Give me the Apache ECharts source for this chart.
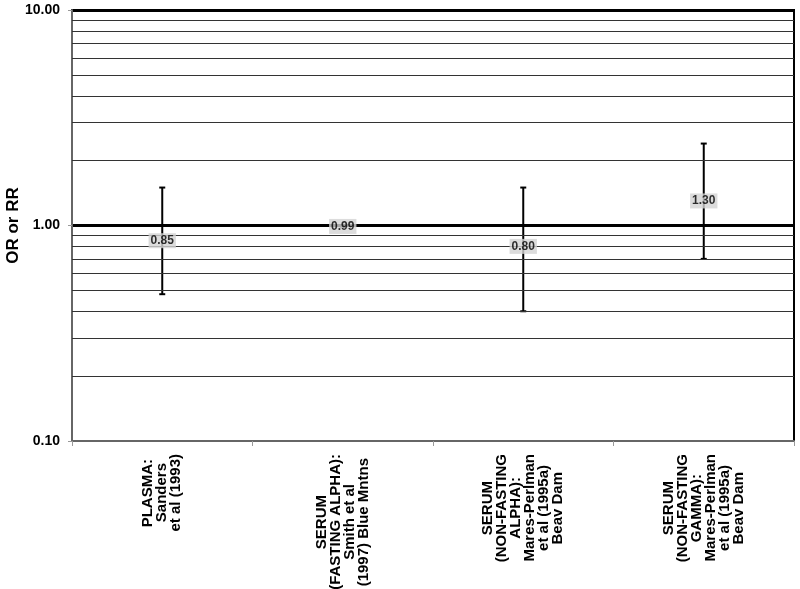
<!DOCTYPE html>
<html lang="en" style="height: 100%">
<head>
    <meta charset="UTF-8">
    <title>OR or RR</title>
    <script src="https://cdn.jsdelivr.net/npm/echarts@6/dist/echarts.min.js"></script>
</head>
<body style="height: 100%; margin: 0">
<div id="main" style="width: 800px; height: 589px"></div>
<script>
    var categories = [
        'PLASMA:\nSanders\net al (1993)',
        'SERUM\n(FASTING ALPHA):\nSmith et al\n(1997) Blue Mntns',
        'SERUM\n(NON-FASTING\nALPHA):\nMares-Perlman\net al (1995a)\nBeav Dam',
        'SERUM\n(NON-FASTING\nGAMMA):\nMares-Perlman\net al (1995a)\nBeav Dam'
    ];
    var estimate = [0.85, 0.99, 0.80, 1.30];
    var lower = [0.48, 0.99, 0.40, 0.70];
    var upper = [1.50, 0.99, 1.50, 2.40];
    var minorLines = [0.2, 0.3, 0.4, 0.5, 0.6, 0.7, 0.8, 0.9, 2, 3, 4, 5, 6, 7, 8, 9];

    var font = '"Liberation Sans", Arial, sans-serif';
    var catFontSize = 15;

    // rotated labels come out right-aligned; pad each line so the lines sit centred
    var ctx = document.createElement('canvas').getContext('2d');
    ctx.font = 'bold ' + catFontSize + 'px ' + font;
    var rich = {};
    var catLabels = categories.map(function (c, i) {
        var lines = c.split('\n');
        var widths = lines.map(function (l) { return ctx.measureText(l).width; });
        var w = Math.max.apply(null, widths);
        return lines.map(function (l, j) {
            var key = 'c' + i + '_' + j;
            rich[key] = {
                fontFamily: font, fontWeight: 'bold', fontSize: catFontSize,
                lineHeight: 14, color: '#000',
                padding: [0, Math.round((w - widths[j]) / 2), 0, 0]
            };
            return '{' + key + '|' + l + '}';
        }).join('\n');
    });

    var barData = categories.map(function (c, i) {
        return [i, lower[i], upper[i]];
    });

    var myChart = echarts.init(document.getElementById('main'));
    myChart.setOption({
        animation: false,
        grid: {
            left: 72, right: 6, top: 10, bottom: 148,
            outerBoundsMode: 'none',
            containLabel: false,
            show: true, borderColor: '#000', borderWidth: 2
        },
        xAxis: {
            type: 'category',
            data: categories,
            axisLine: {lineStyle: {color: '#666', width: 2}},
            axisTick: {show: true, length: 5, lineStyle: {color: '#999'}},
            axisLabel: {
                rotate: 90,
                margin: 13,
                interval: 0,
                hideOverlap: false,
                color: '#000',
                fontFamily: font,
                fontWeight: 'bold',
                fontSize: catFontSize,
                lineHeight: 14,
                formatter: function (v, idx) { return catLabels[idx]; },
                rich: rich
            }
        },
        yAxis: {
            type: 'log',
            logBase: 10,
            min: 0.1,
            max: 10,
            name: 'OR or RR',
            nameLocation: 'middle',
            nameGap: 50,
            nameMoveOverlap: false,
            nameTextStyle: {fontFamily: font, fontWeight: 'bold', fontSize: 17, color: '#000'},
            axisLine: {show: true, lineStyle: {color: '#666', width: 2}},
            axisTick: {show: true, length: 4, lineStyle: {color: '#999'}},
            axisLabel: {
                margin: 12,
                color: '#000',
                fontFamily: font,
                fontWeight: 'bold',
                fontSize: 14,
                formatter: function (v) { return v.toFixed(2); }
            },
            splitLine: {show: true, showMinLine: false, lineStyle: {color: '#000', width: 3}}
        },
        series: [
            {
                type: 'custom',
                data: barData,
                z: 3,
                renderItem: function (params, api) {
                    var x = api.value(0);
                    var lo = api.coord([x, api.value(1)]);
                    var hi = api.coord([x, api.value(2)]);
                    var cap = 3;
                    var st = {stroke: '#000', lineWidth: 2};
                    return {
                        type: 'group',
                        children: [
                            {type: 'line', shape: {x1: lo[0], y1: lo[1], x2: hi[0], y2: hi[1]}, style: st},
                            {type: 'line', shape: {x1: lo[0] - cap, y1: lo[1], x2: lo[0] + cap, y2: lo[1]}, style: st},
                            {type: 'line', shape: {x1: hi[0] - cap, y1: hi[1], x2: hi[0] + cap, y2: hi[1]}, style: st}
                        ]
                    };
                },
                markLine: {
                    silent: true,
                    symbol: 'none',
                    label: {show: false},
                    lineStyle: {color: '#333', width: 1, type: 'solid'},
                    data: minorLines.map(function (v) { return {yAxis: v}; })
                }
            },
            {
                type: 'scatter',
                z: 5,
                symbolSize: 1,
                itemStyle: {color: 'rgba(0,0,0,0)'},
                data: estimate.map(function (v, i) { return [i, v]; }),
                label: {
                    show: true,
                    position: 'inside',
                    formatter: function (p) { return p.value[1].toFixed(2); },
                    backgroundColor: '#d3d3d3',
                    padding: [2, 2, 1, 2],
                    color: '#000',
                    fontFamily: font,
                    fontWeight: 'bold',
                    fontSize: 12
                }
            }
        ]
    });
</script>
</body>
</html>
